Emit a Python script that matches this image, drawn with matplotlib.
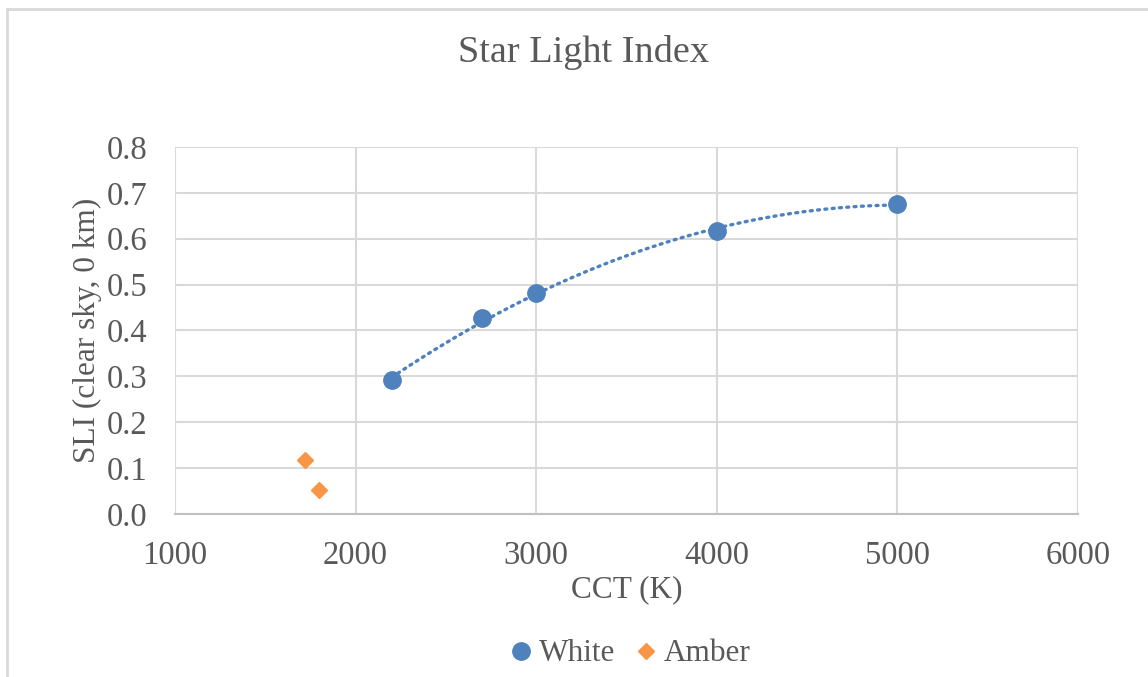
import numpy as np
import matplotlib.pyplot as plt
from matplotlib.lines import Line2D

white_cct = [2200, 2700, 3000, 4000, 5000]
white_sli = [0.292, 0.427, 0.481, 0.616, 0.676]
amber_cct = [1720, 1800]
amber_sli = [0.118, 0.052]

x_ticks = [1000, 2000, 3000, 4000, 5000, 6000]
y_ticks = [0.0, 0.1, 0.2, 0.3, 0.4, 0.5, 0.6, 0.7, 0.8]

blue = '#4F81BD'
txt = '#595959'

plt.rcParams['font.family'] = ['Liberation Serif', 'DejaVu Serif']

fig = plt.figure(figsize=(11.48, 6.77), dpi=100)
ax = fig.add_axes([0.1524, 0.2408, 0.7866, 0.5421])

# 2nd order polynomial trendline like excel
coef = np.polyfit(white_cct, white_sli, 2)
xs = np.linspace(min(white_cct), max(white_cct), 200)
ax.plot(xs, np.polyval(coef, xs), color=blue, lw=2.4, ls=(0, (0.6, 1.6)),
        dash_capstyle='round', zorder=3)

ax.plot(white_cct, white_sli, 'o', color=blue, ms=12.5, zorder=4, label='White')
ax.plot(amber_cct, amber_sli, 'D', color='#F79646', ms=8.5, zorder=4, label='Amber')

ax.set_xlim(1000, 6000)
ax.set_ylim(0, 0.8)
ax.set_xticks(x_ticks)
ax.set_yticks(y_ticks)
ax.set_yticklabels(['%.1f' % v for v in y_ticks])
ax.grid(True, color='#d9d9d9', lw=1.5)
ax.set_axisbelow(True)
for s in ['top', 'right', 'left']:
    ax.spines[s].set_visible(False)
ax.spines['bottom'].set_color('#bfbfbf')
ax.spines['bottom'].set_linewidth(1.5)
ax.tick_params(length=0, labelsize=23.5, colors=txt)
ax.tick_params(axis='x', pad=19)
ax.tick_params(axis='y', pad=19.5)

fig.text(0.508, 0.923, 'Star Light Index', ha='center', va='center', fontsize=27.5, color=txt)
ax.set_xlabel('CCT (K)', fontsize=22.5, color=txt, labelpad=3)
ax.set_ylabel('SLI (clear sky, 0 km)', fontsize=22.5, color=txt, labelpad=4)

fig.legend(handles=ax.get_lines()[1:], loc='center', bbox_to_anchor=(0.547, 0.034),
           ncol=2, frameon=False, fontsize=22.5, labelcolor=txt,
           handletextpad=0.05, columnspacing=0.5, handlelength=1.0)

# chart area border (only left and top visible in the crop)
fig.add_artist(Line2D([0.0065, 0.0065], [0, 0.987], color='#d9d9d9', lw=2, transform=fig.transFigure))
fig.add_artist(Line2D([0.0065, 1.0], [0.987, 0.987], color='#d9d9d9', lw=2, transform=fig.transFigure))

fig.savefig('out.png', dpi=100, facecolor='white')
